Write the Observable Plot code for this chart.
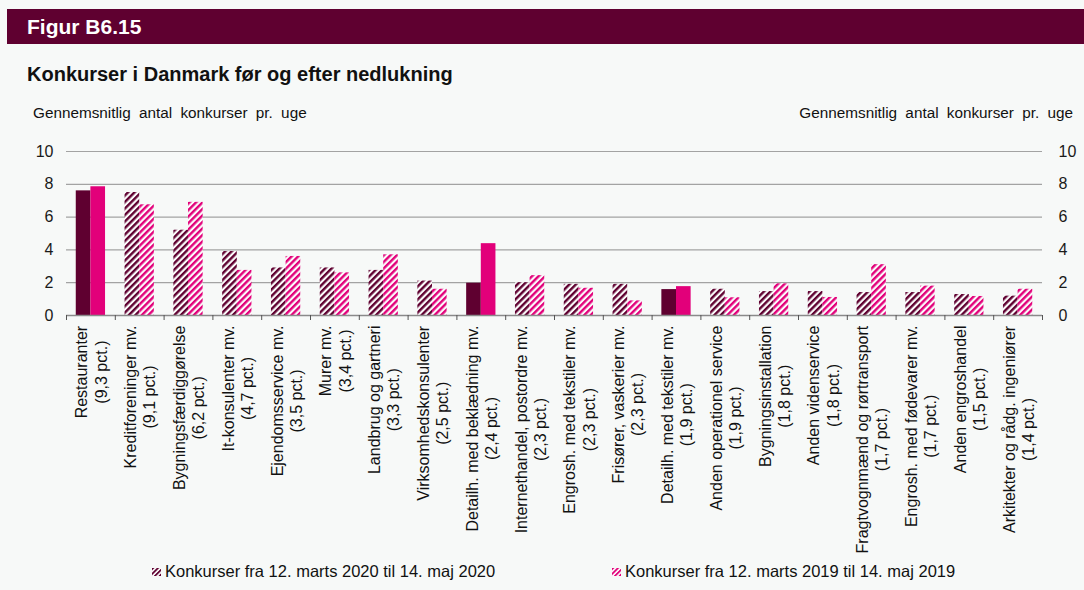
<!DOCTYPE html>
<html><head><meta charset="utf-8">
<script src="https://cdn.jsdelivr.net/npm/d3@7"></script>
<script src="https://cdn.jsdelivr.net/npm/@observablehq/plot@0.6"></script>
<style>
body{margin:0;background:#f7f9f8;font-family:Arial,"Liberation Sans",sans-serif;color:#111;}
#wrap{position:relative;width:1084px;height:590px;overflow:hidden;background:#f7f9f8;}
#header{position:absolute;left:7px;top:9px;width:1077px;height:35px;background:#5f0030;color:#fff;font-weight:bold;font-size:21px;line-height:36px;padding-left:20px;box-sizing:border-box;}
#title{position:absolute;left:27px;top:63px;font-weight:bold;font-size:20px;}
.ylab{position:absolute;top:104px;font-size:15.3px;word-spacing:4px;}
#chart{position:absolute;left:0;top:130px;}
.leg{position:absolute;top:562px;font-size:16.5px;display:flex;align-items:center;gap:4px;}
.leg svg{display:block;}
</style></head>
<body><div id="wrap">
<div id="header">Figur B6.15</div>
<div id="title">Konkurser i Danmark før og efter nedlukning</div>
<div class="ylab" style="left:33px">Gennemsnitlig antal konkurser pr. uge</div>
<div class="ylab" style="right:11px">Gennemsnitlig antal konkurser pr. uge</div>
<div id="chart"></div>
<div class="leg" style="left:152px"><svg width="9" height="8"><rect width="9" height="8" fill="url(#lh2020)"/></svg><span>Konkurser fra 12. marts 2020 til 14. maj 2020</span></div>
<div class="leg" style="left:612px"><svg width="9" height="8"><rect width="9" height="8" fill="url(#lh2019)"/></svg><span>Konkurser fra 12. marts 2019 til 14. maj 2019</span></div>
</div>
<script>
const cats = ["Restauranter","Kreditforeninger mv.","Bygningsfærdiggørelse","It-konsulenter mv.","Ejendomsservice mv.","Murer mv.","Landbrug og gartneri","Virksomhedskonsulenter","Detailh. med beklædning mv.","Internethandel, postordre mv.","Engrosh. med tekstiler mv.","Frisører, vaskerier mv.","Detailh. med tekstiler mv.","Anden operationel service","Bygningsinstallation","Anden videnservice","Fragtvognmænd og rørtransport","Engrosh. med fødevarer mv.","Anden engroshandel","Arkitekter og rådg. ingeniører"];
const shares = ["9,3","9,1","6,2","4,7","3,5","3,4","3,3","2,5","2,4","2,3","2,3","2,3","1,9","1,9","1,8","1,8","1,7","1,7","1,5","1,4"];
const v2020 = [7.6,7.5,5.2,3.9,2.9,2.9,2.75,2.1,1.97,2.0,1.9,1.9,1.58,1.6,1.46,1.46,1.4,1.4,1.28,1.18];
const v2019 = [7.85,6.75,6.9,2.75,3.6,2.6,3.7,1.6,4.38,2.43,1.66,0.89,1.76,1.08,1.93,1.1,3.1,1.79,1.16,1.6];
const solidCategories = ["Restauranter","Detailh. med beklædning mv.","Detailh. med tekstiler mv."];
const yTicks = [0,2,4,6,8,10];
const seriesColors = {"2020":"#5f0030","2019":"#e2007a"};

const rows2020 = cats.map((c,i)=>({cat:c, series:"2020", value:v2020[i]}));
const rows2019 = cats.map((c,i)=>({cat:c, series:"2019", value:v2019[i]}));
const fillOf = d => solidCategories.includes(d.cat) ? seriesColors[d.series] : `url(#h${d.series})`;

const W=1084, ML=66, MR=42, MT=21, MB=230, H=415;
const n=cats.length, step=(W-ML-MR)/n, gap=step*0.2;
const font = 'Arial, "Liberation Sans", sans-serif';

const svg = Plot.plot({
  width:W, height:H, marginLeft:ML, marginRight:MR, marginTop:MT, marginBottom:MB,
  style:{background:"transparent", fontFamily:font, fontSize:"16px", color:"#1a1a1a", overflow:"visible"},
  x:{domain:cats, padding:0, round:false, axis:null},
  y:{domain:[0,10], axis:null},
  color:{type:"identity"},
  marks:[
    Plot.gridY(yTicks.filter(t=>t>0), {stroke:"#a3a3a3", strokeOpacity:1, strokeWidth:1.2}),
    Plot.axisY(yTicks, {anchor:"left", label:null, tickSize:0, tickPadding:13, fontSize:16}),
    Plot.axisY(yTicks, {anchor:"right", label:null, tickSize:0, tickPadding:16, fontSize:16}),
    Plot.barY(rows2020, {x:"cat", y:"value", fill:fillOf, insetLeft:gap, insetRight:step/2}),
    Plot.barY(rows2019, {x:"cat", y:"value", fill:fillOf, insetLeft:step/2, insetRight:gap}),
    Plot.ruleY([0], {stroke:"#8a8a8a", strokeWidth:1.5}),
    Plot.ruleX(cats, {x:d=>d, dx:step/2, y1:0, y2:0, insetBottom:-5, stroke:"#555"}),
    Plot.ruleX(cats.slice(0,1), {x:d=>d, dx:-step/2, y1:0, y2:0, insetBottom:-5, stroke:"#555"}),
    Plot.text(cats, {x:d=>d, y:0, dy:10, text:(d,i)=>`${d}\n(${shares[i]} pct.)`, rotate:-90,
      textAnchor:"middle", lineAnchor:"middle", lineHeight:1.2, fontSize:16, fill:"#111", className:"xlab"})
  ]
});

const defs = `<defs>
<pattern id="h2020" patternUnits="userSpaceOnUse" width="4.6" height="4.6" patternTransform="rotate(45)"><rect width="4.6" height="4.6" fill="#fbfbfb"/><rect width="2.4" height="4.6" fill="#5f0030"/></pattern>
<pattern id="h2019" patternUnits="userSpaceOnUse" width="4.6" height="4.6" patternTransform="rotate(45)"><rect width="4.6" height="4.6" fill="#fbfbfb"/><rect width="2.4" height="4.6" fill="#e2007a"/></pattern>
<pattern id="lh2020" patternUnits="userSpaceOnUse" width="3.4" height="3.4" patternTransform="rotate(45)"><rect width="3.4" height="3.4" fill="#fbfbfb"/><rect width="1.8" height="3.4" fill="#5f0030"/></pattern>
<pattern id="lh2019" patternUnits="userSpaceOnUse" width="3.4" height="3.4" patternTransform="rotate(45)"><rect width="3.4" height="3.4" fill="#fbfbfb"/><rect width="1.8" height="3.4" fill="#e2007a"/></pattern>
</defs>`;
svg.insertAdjacentHTML("afterbegin", defs);
document.getElementById("chart").appendChild(svg);

// top-align each rotated label block under the axis (lines stay centred on each other)
svg.querySelectorAll(".xlab text").forEach(t=>{
  const w = t.getBBox().width;
  t.setAttribute("transform", t.getAttribute("transform") + ` translate(${-w/2},0)`);
});
</script>
</body></html>
